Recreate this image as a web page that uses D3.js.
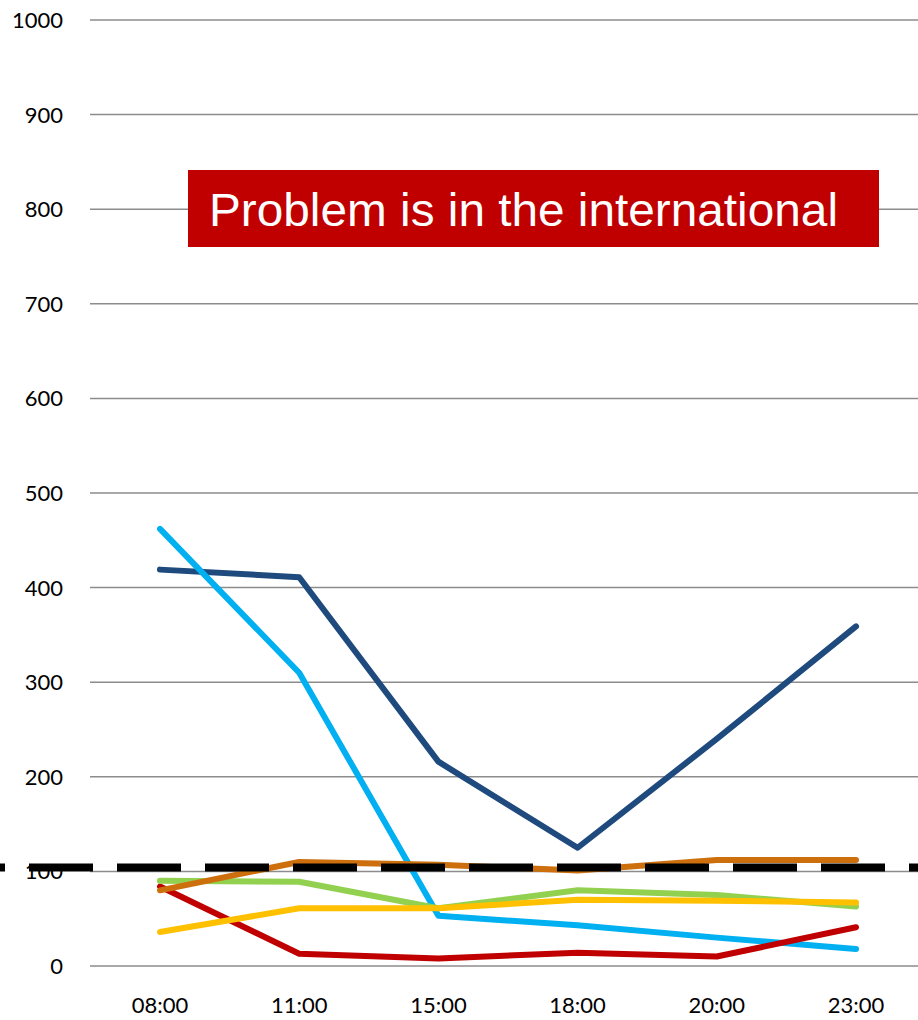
<!DOCTYPE html>
<html>
<head>
<meta charset="utf-8">
<script src="https://cdn.jsdelivr.net/npm/d3@7"></script>
<style>
  body { margin: 0; background: #fff; }
  svg { display: block; }
</style>
</head>
<body>
<div id="chart"></div>
<script>
// categories + series
const hours = ["08:00", "11:00", "15:00", "18:00", "20:00", "23:00"];
const navy   = [419, 411, 216, 125, 240, 359];
const sky    = [462, 310, 53, 43, 30, 18];
const red    = [84, 13, 8, 14, 10, 41];
const green  = [90, 89, 61, 80, 75, 63];
const orange = [80, 110, 107, 101, 112, 112];
const yellow = [36, 61, 61, 70, 69, 67];
const threshold = 104;
const yTicks = [0, 100, 200, 300, 400, 500, 600, 700, 800, 900, 1000];
const note = "Problem is in the international";

// draw order matters a bit (later = on top)
const series = [
  {name: "navy", values: navy, color: "#1F4A7D"},
  {name: "sky", values: sky, color: "#00B0F0"},
  {name: "red", values: red, color: "#C00000"},
  {name: "green", values: green, color: "#92D050"},
  {name: "orange", values: orange, color: "#CC6F0C"},
  {name: "yellow", values: yellow, color: "#FFC000"}
]

const W = 918, H = 1020
const svg = d3.select("#chart").append("svg").attr("width", W).attr("height", H)

const x = d3.scalePoint().domain(hours).range([160, 856])
const y = d3.scaleLinear().domain([0, 1000]).range([966, 20])

// gridlines
svg.append("g").selectAll("line")
  .data(yTicks)
  .join("line")
    .attr("x1", 90).attr("x2", W)
    .attr("y1", d => y(d)).attr("y2", d => y(d))
    .attr("stroke", "#8c8c8c")
    .attr("stroke-width", 1.5)

// y labels
svg.append("g").selectAll("text")
  .data(yTicks)
  .join("text")
    .attr("x", 63)
    .attr("y", d => y(d))
    .attr("dy", "0.36em")
    .attr("text-anchor", "end")
    .attr("font-family", "Lato, 'Open Sans', sans-serif")
    .attr("font-size", 22)
    .attr("fill", "#000")
    .text(d => d)

// x labels (kept a hair above the bottom edge)
svg.append("g").selectAll("text")
  .data(hours)
  .join("text")
    .attr("x", d => x(d))
    .attr("y", 1013)
    .attr("text-anchor", "middle")
    .attr("font-family", "Lato, 'Open Sans', sans-serif")
    .attr("font-size", 22)
    .attr("fill", "#000")
    .text(d => d)

// lines
const line = d3.line()
  .x((d, i) => x(hours[i]))
  .y(d => y(d))

svg.append("g").selectAll("path")
  .data(series)
  .join("path")
    .attr("d", d => line(d.values))
    .attr("fill", "none")
    .attr("stroke", d => d.color)
    .attr("stroke-width", 6)
    .attr("stroke-linejoin", "round")
    .attr("stroke-linecap", "round")

// threshold, dashed, on top
svg.append("line")
  .attr("x1", -59).attr("x2", W)
  .attr("y1", y(threshold)).attr("y2", y(threshold))
  .attr("stroke", "#000")
  .attr("stroke-width", 8)
  .attr("stroke-dasharray", "64 24")

// red callout box
const box = svg.append("g")
box.append("rect")
  .attr("x", 188).attr("y", 170)
  .attr("width", 691).attr("height", 77)
  .attr("fill", "#C00000")
box.append("text")
  .attr("x", 209).attr("y", 226)
  .attr("font-family", "'Liberation Sans', Arial, sans-serif")
  .attr("font-size", 47)
  .attr("fill", "#fff")
  .attr("textLength", 629)
  .attr("lengthAdjust", "spacingAndGlyphs")
  .text(note)
</script>
</body>
</html>
